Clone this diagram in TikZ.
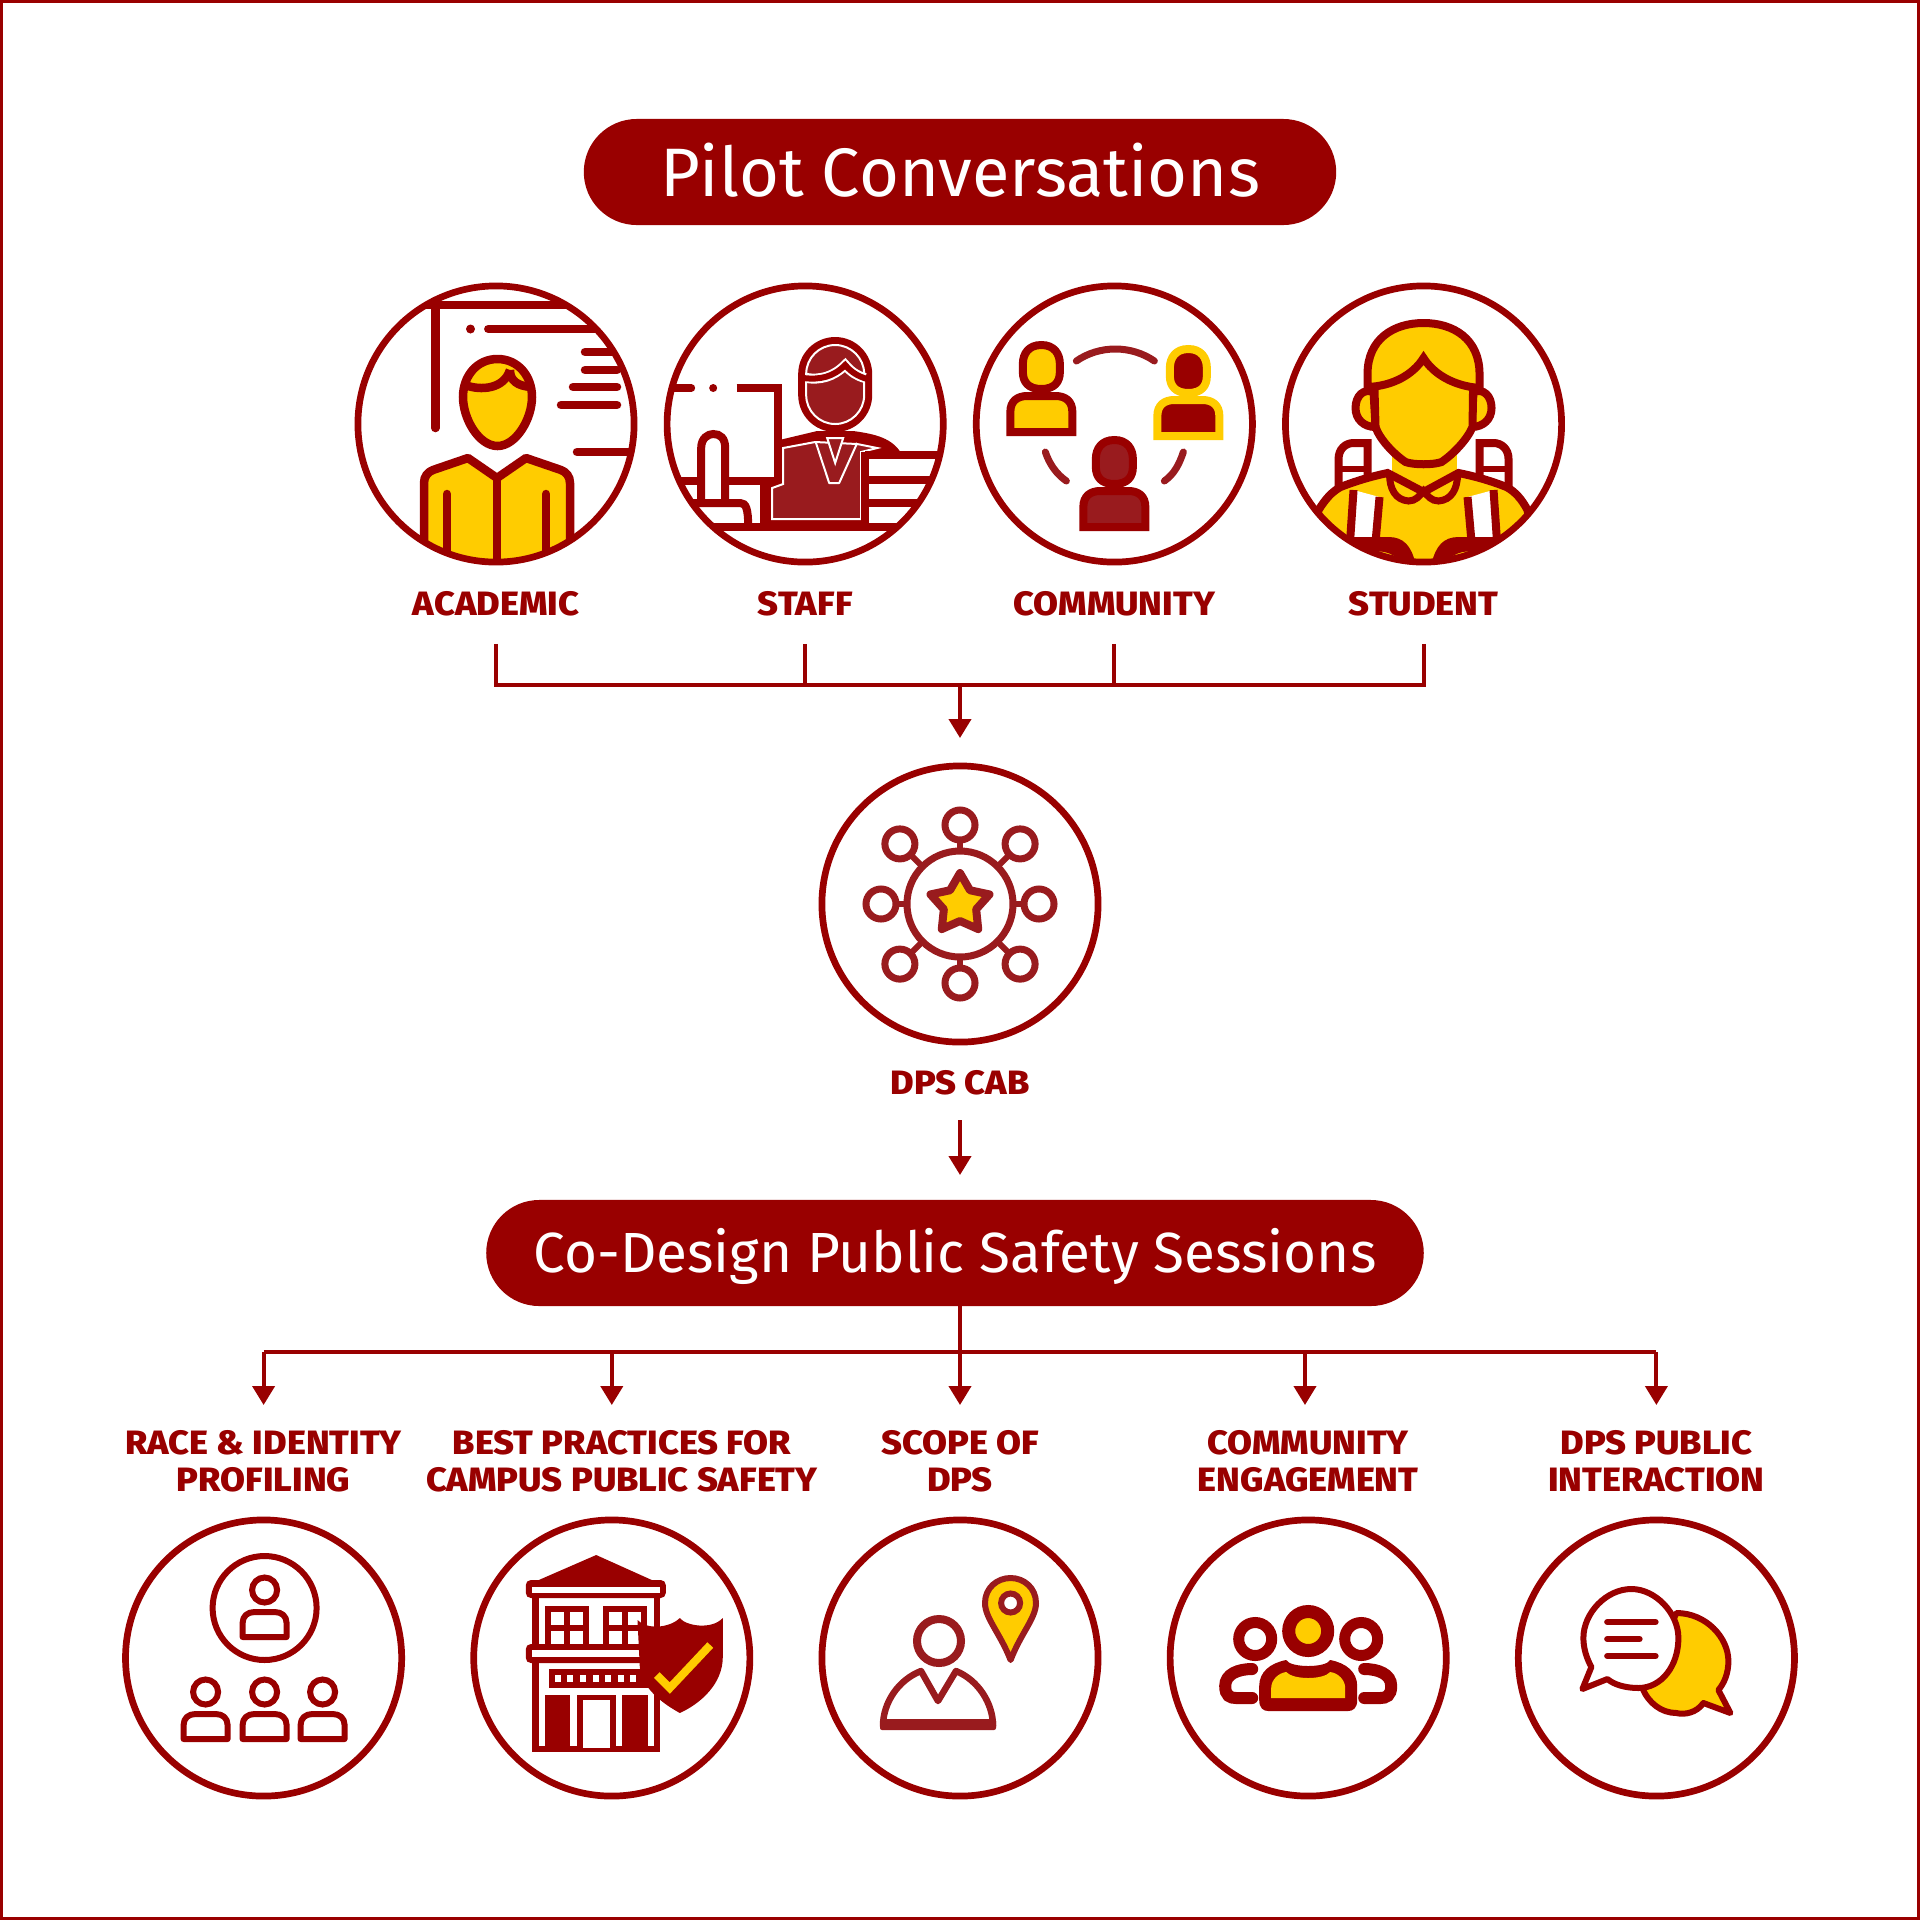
\documentclass[tikz,border=0pt]{standalone}
\usepackage{fontspec}
\setmainfont{Fira Sans}[BoldFont=* ExtraBold,BoldFeatures={FakeStretch=1.07}]
\usetikzlibrary{positioning,arrows.meta}
\pgfdeclarelayer{bg}
\pgfsetlayers{bg,main}
\definecolor{dpsred}{HTML}{990000}
\definecolor{dpsgold}{HTML}{FFCC00}
\definecolor{dpsmaroon}{HTML}{991B1E}
\tikzset{
  ring/.style={circle,draw=dpsred,line width=.067cm,minimum size=2.76cm,inner sep=0pt,outer sep=0pt},
  pill/.style={fill=dpsred,text=white,rounded corners=.53cm,minimum height=1.06cm,text depth=.05cm,inner sep=0pt,outer sep=0pt},
  tag/.style={text=dpsred,font=\bfseries\fontsize{9.6}{10.5}\selectfont,align=center,inner sep=0pt,outer sep=0pt},
  flow/.style={draw=dpsred,line width=.04cm},
  tip/.style={-{Triangle[length=.19cm,width=.22cm]}},
  bust/.pic={
    \draw[pic actions] (0,-47) .. controls (13,-47) and (18.5,-38) .. (18.5,-28) -- (18.5,-20) .. controls (18.5,-10) and (13,-3) .. (0,-3) .. controls (-13,-3) and (-18.5,-10) .. (-18.5,-20) -- (-18.5,-28) .. controls (-18.5,-38) and (-13,-47) .. (0,-47) -- cycle;
    \draw[pic actions] (-31,40) -- (-31,20) .. controls (-31,9) and (-24,4) .. (-14,4) -- (14,4) .. controls (24,4) and (31,9) .. (31,20) -- (31,40) -- cycle;
  },
  bustline/.pic={
    \draw[pic actions] (0,-20) circle (12.5);
    \draw[pic actions,line join=round] (-22,27) -- (-22,13) .. controls (-22,6) and (-17,2) .. (-10,2) -- (10,2) .. controls (17,2) and (22,6) .. (22,13) -- (22,27) -- cycle;
  },
}
\begin{document}
\begin{tikzpicture}[x=.01cm,y=-.01cm]
  \useasboundingbox (0,0) rectangle (1920,1920);
  \draw [color = dpsred, line width=.03cm] (1.5,1.5) rectangle (1918.5,1918.5);

  \node[pill,minimum width=7.52cm] (pilot) at (960,172) {\fontsize{19.5}{24}\selectfont Pilot Conversations};
  \node[ring] (academic) at (496,424) {};
  \node[ring,right=.33cm of academic] (staff) {};
  \node[ring,right=.33cm of staff] (community) {};
  \node[ring,right=.33cm of community] (student) {};
  \node[tag,below=.29cm of academic] (academiclabel) {ACADEMIC};
  \node[tag,below=.29cm of staff] (stafflabel) {STAFF};
  \node[tag,below=.29cm of community] (communitylabel) {COMMUNITY};
  \node[tag,below=.29cm of student] (studentlabel) {STUDENT};

  \node[ring] (cab) at (960,904) {};
  \node[tag,below=.285cm of cab] (cablabel) {DPS CAB};
  \node[pill,minimum width=9.37cm] (codesign) at (955,1253) {\fontsize{16.1}{21}\selectfont Co-Design Public Safety Sessions};

  \node[ring] (scope) at (960,1658) {};
  \node[ring,left=.72cm of scope] (best) {};
  \node[ring,left=.72cm of best] (race) {};
  \node[ring,right=.72cm of scope] (engage) {};
  \node[ring,right=.72cm of engage] (interact) {};
  \node[tag,above=.28cm of race] (racelabel) {RACE \& IDENTITY\\PROFILING};
  \node[tag,above=.28cm of best,xshift=.1cm] (bestlabel) {BEST PRACTICES FOR\\CAMPUS PUBLIC SAFETY};
  \node[tag,above=.28cm of scope] (scopelabel) {SCOPE OF\\DPS};
  \node[tag,above=.28cm of engage] (engagelabel) {COMMUNITY\\ENGAGEMENT};
  \node[tag,above=.28cm of interact] (interactlabel) {DPS PUBLIC\\INTERACTION};

  % connectors
  \coordinate (joint) at (960,685);
  \coordinate (cabin) at (960,738);
  \draw[flow] ([yshift=-.28cm]academiclabel.south) |- (joint);
  \draw[flow] ([yshift=-.28cm]studentlabel.south) |- (joint);
  \draw[flow] ([yshift=-.28cm]stafflabel.south) -- (stafflabel |- joint);
  \draw[flow] ([yshift=-.28cm]communitylabel.south) -- (communitylabel |- joint);
  \draw[flow,tip] (joint) -- (cabin);
  \coordinate (codesignin) at (960,1175);
  \coordinate (codesignout) at (960,1306);
  \coordinate (bus) at (960,1352);
  \coordinate (tips) at (960,1405);
  \coordinate (engagein) at (1305,1405);
  \draw[flow,tip] ([yshift=-.25cm]cablabel.south) -- (codesignin);
  \draw[flow] (codesignout) -- (bus);
  \draw[flow] (bus -| race) -- (bus -| interact);
  \foreach \topic in {race,best,scope,engagein,interact}
    \draw[flow,tip] (bus -| \topic) -- (tips -| \topic);

  \begin{pgfonlayer}{bg}
    % academic
    \begin{scope}[shift={(academic)}]
      \clip (0,0) circle (137);
      \draw[dpsred,line width=.085cm] (-140,-119) -- (140,-119);
      \draw[dpsred,line width=.085cm,line cap=round] (-60.7,-119) -- (-60.7,4);
      \fill[dpsred] (-25.5,-95) circle (4.5);
      \draw[dpsred,line width=.085cm,line cap=round] (-7.7,-95) -- (140,-95);
      \draw[dpsred,line width=.085cm,line cap=round] (89,-72) -- (140,-72);
      \draw[dpsred,line width=.085cm,line cap=round] (89,-54) -- (121,-54);
      \draw[dpsred,line width=.085cm,line cap=round] (77,-37) -- (121,-37);
      \draw[dpsred,line width=.085cm,line cap=round] (65,-19) -- (121,-19);
      \draw[dpsred,line width=.085cm,line cap=round] (81,28) -- (140,28);
      \draw[dpsred,fill=dpsgold,line width=.085cm] (1.5,-65) .. controls (22,-65) and (36,-48) .. (36,-27) .. controls (36,-5) and (20,22) .. (1.5,22) .. controls (-17,22) and (-33,-5) .. (-33,-27) .. controls (-33,-48) and (-19,-65) .. (1.5,-65) -- cycle;
      \draw[dpsred,line width=.085cm] (-31,-39) .. controls (-15,-33) and (8,-35) .. (14,-54);
      \draw[dpsred,line width=.085cm] (14,-54) .. controls (14,-43) and (22,-38) .. (35,-37);
      \draw[dpsred,fill=dpsgold,line width=.085cm,line join=round] (-72,145) -- (-72,59) .. controls (-72,52) and (-68,48) .. (-63,46) -- (-28,34) -- (1,54) -- (30,34) -- (65,46) .. controls (70,48) and (74,52) .. (74,59) -- (74,145) -- cycle;
      \draw[dpsred,line width=.085cm] (1,54) -- (1,145);
      \draw[dpsred,line width=.085cm,line cap=round] (-49,70) -- (-49,145);
      \draw[dpsred,line width=.085cm,line cap=round] (50,70) -- (50,145);
    \end{scope}
    % staff
    \begin{scope}[shift={(staff)}]
      \clip (0,0) circle (137);
      \draw[dpsred,line width=.08cm,line cap=round] (-140,-36) -- (-114,-36);
      \fill[dpsred] (-92,-36) circle (4);
      \draw[dpsred,line width=.08cm] (-68.6,-36) -- (-27,-36) -- (-27,57) -- (-140,57);
      \fill[dpsred] (-30,17) -- (12,7) -- (48,7) .. controls (70,10) and (88,14) .. (97,31) -- (60,31) -- (60,100) -- (-43,100) -- (-43,60) -- (-27,60) -- cycle;
      \draw[white,fill=dpsmaroon,line width=.02cm] (-22,24) -- (10,18) -- (52,20) -- (72,24) -- (56,28) -- (56,95) -- (-33,95) -- (-33,64) -- (-22,60) -- cycle;
      \draw[white,line width=.02cm,line join=round] (10.5,18) -- (24,59) -- (34,59) -- (52,19);
      \draw[white,fill=dpsmaroon,line width=.02cm] (22,14) -- (38,14) -- (30,39) -- cycle;
      \fill[dpsred,rounded corners=.37cm] (-7,-87) rectangle (67,8);
      \draw[white,fill=dpsmaroon,line width=.02cm,rounded corners=.29cm] (1,-79) rectangle (59,0);
      \draw[white,line width=.1cm] (1,-46) .. controls (15,-44) and (28,-47) .. (40,-59) .. controls (46,-52) and (52,-48) .. (60,-46);
      \draw[dpsred,line width=.06cm] (-2,-46) .. controls (15,-44) and (28,-47) .. (40,-59) .. controls (46,-52) and (52,-48) .. (62,-45);
      \draw[dpsred,line width=.08cm] (60,31) -- (140,31);
      \draw[dpsred,line width=.08cm] (60,56) -- (140,56);
      \draw[dpsred,line width=.08cm] (60,79) -- (140,79);
      \draw[dpsred,line width=.08cm] (60,28) -- (60,103);
      \draw[dpsred,line width=.08cm] (-140,103) -- (140,103);
      \draw[dpsred,line width=.08cm] (-41,60) -- (-41,103);
      \draw[dpsred,fill=white,line width=.08cm] (-104,79) -- (-104,24) .. controls (-104,14) and (-97,10) .. (-92,10) .. controls (-85,10) and (-80,14) .. (-80,24) -- (-80,79);
      \draw[dpsred,line width=.08cm] (-140,79) -- (-65,79) .. controls (-59,79) and (-57,85) .. (-57,103);
    \end{scope}
    % community
    \begin{scope}[shift={(community)}]
      \pic[fill=dpsgold,draw=dpsred,line width=.08cm] at (-73,-32) {bust};
      \pic[fill=dpsred,draw=dpsgold,line width=.08cm] at (74,-28) {bust};
      \pic[fill=dpsmaroon,draw=dpsred,line width=.08cm] at (0,63) {bust};
      \draw[dpsmaroon,line width=.07cm,line cap=round] (-38,-63) .. controls (-15,-79) and (17,-79) .. (40,-63);
      \draw[dpsmaroon,line width=.07cm,line cap=round] (-69,28) .. controls (-65,40) and (-58,50) .. (-48,57);
      \draw[dpsmaroon,line width=.07cm,line cap=round] (69,28) .. controls (65,40) and (60,50) .. (50,57);
    \end{scope}
    % student
    \begin{scope}[shift={(student)}]
      \clip (0,0) circle (137);
      \draw[dpsred,fill=white,line width=.08cm] (-85,70) -- (-85,35) .. controls (-85,25) and (-78,19) .. (-70,19) -- (-56,19) -- (-56,70);
      \draw[dpsred,line width=.06cm] (-85,45) -- (-56,45);
      \draw[dpsred,fill=white,line width=.08cm] (85,70) -- (85,35) .. controls (85,25) and (78,19) .. (70,19) -- (56,19) -- (56,70);
      \draw[dpsred,line width=.06cm] (85,45) -- (56,45);
      \fill[dpsgold] (-32,30) rectangle (33,70);
      \draw[dpsred,fill=dpsgold,line width=.08cm] (-115,150) -- (-105,86) .. controls (-98,75) and (-92,68) .. (-83,63) .. controls (-65,56) and (-50,52) .. (-36,49) -- (0,68) -- (35,49) .. controls (50,52) and (65,56) .. (83,63) .. controls (92,68) and (98,75) .. (104,86) -- (115,150) -- cycle;
      \draw[dpsred,line width=.07cm] (-34,50) .. controls (-34,65) and (-28,76) .. (-15,77) .. controls (-8,77) and (-4,72) .. (0,67) .. controls (4,72) and (8,77) .. (15,77) .. controls (28,76) and (34,65) .. (34,50);
      \draw[dpsred,fill=white,line width=.08cm] (-70,66) -- (-73.5,118) -- (-48,118) -- (-44,73);
      \draw[dpsred,fill=white,line width=.08cm] (70,66) -- (73.5,118) -- (48,118) -- (44,73);
      \fill[dpsred] (-100,113) -- (-35,113) .. controls (-20,113) and (-12,122) .. (-8,140) -- (-22,140) .. controls (-28,128) and (-45,124) .. (-65,130) -- cycle;
      \fill[dpsred] (100,113) -- (35,113) .. controls (20,113) and (12,122) .. (8,140) -- (22,140) .. controls (28,128) and (45,124) .. (65,130) -- cycle;
      \draw[dpsred,fill=dpsgold,line width=.08cm] (-50,-32) .. controls (-60,-36) and (-68,-28) .. (-68,-16) .. controls (-68,-5) and (-60,3) .. (-48,3) -- cycle;
      \draw[dpsred,fill=dpsgold,line width=.08cm] (50,-32) .. controls (60,-36) and (68,-28) .. (68,-16) .. controls (68,-5) and (60,3) .. (48,3) -- cycle;
      \draw[dpsred,fill=dpsgold,line width=.08cm] (-50,-70) -- (-48,3) .. controls (-44,15) and (-30,30) .. (-18,38) .. controls (-10,41) and (10,41) .. (18,38) .. controls (30,30) and (44,15) .. (49,3) -- (50,-70) -- cycle;
      \draw[dpsred,fill=dpsgold,line width=.08cm] (-56,-37) -- (-56,-50) .. controls (-56,-85) and (-30,-101) .. (0,-101) .. controls (30,-101) and (56,-85) .. (56,-50) -- (56,-36) .. controls (30,-38) and (10,-50) .. (0,-66) .. controls (-10,-50) and (-30,-38) .. (-56,-37) -- cycle;
    \end{scope}
    % cab
    \begin{scope}[shift={(cab)}]
      \foreach \ang/\rad in {0/79,45/85,90/79,135/85,180/79,225/85,270/79,315/85}{
        \draw[dpsmaroon,line width=.06cm] (\ang:53) -- (\ang:\rad-15);
        \draw[dpsmaroon,line width=.07cm] (\ang:\rad) circle (15);
      }
      \draw[dpsmaroon,line width=.07cm] (0,0) circle (53);
      \draw[dpsmaroon,fill=dpsgold,line width=.08cm,line join=round] (-90:31) -- (-54:17) -- (-18:31) -- (18:17) -- (54:31) -- (90:17) -- (126:31) -- (162:17) -- (198:31) -- (234:17) -- cycle;
    \end{scope}
    % race
    \begin{scope}[shift={(race)}]
      \draw[dpsred,line width=.06cm] (1,-50) circle (52);
      \foreach \px/\py in {1/-48,-58/54,1/54,59/54}
        \pic[draw=dpsred,line width=.06cm] at (\px,\py) {bustline};
    \end{scope}
    % best
    \begin{scope}[shift={(best)}]
      \fill[dpsred] (-15.6,-103) -- (40,-78) -- (-73,-78) -- cycle;
      \fill[dpsred] (-80,-60) rectangle (48,94);
      \fill[white] (-73,-60) rectangle (42.5,88);
      \fill[dpsred,rounded corners=.05cm] (-86,-78) rectangle (54,-60);
      \fill[white] (-79.5,-71) rectangle (48,-65);
      \fill[dpsred] (-67,-52) rectangle (-23,-14);
      \fill[dpsred] (-9,-52) rectangle (35,-14);
      \foreach \px in {-61,-42,-3,16}{
        \fill[white] (\px,-46) rectangle +(13,13);
        \fill[white] (\px,-27) rectangle +(13,13);
      }
      \fill[dpsred,rounded corners=.05cm] (-86,-14) rectangle (54,5);
      \fill[white] (-79.5,-8) rectangle (48,-1);
      \fill[dpsred] (-63,11) rectangle (40,30);
      \foreach \px in {-57,-44.4,-31.8,-19.2,-6.6,6,18.6}
        \fill[white] (\px,17) rectangle +(6,7);
      \fill[dpsred] (-67,37) rectangle (-42,90);
      \fill[dpsred] (-35,37) rectangle (4.6,90);
      \fill[dpsred] (10,37) rectangle (36,90);
      \fill[white] (-29,42) rectangle (-1.7,90);
      \fill[dpsred] (25.7,-38) .. controls (35,-28) and (58,-30) .. (68,-40) .. controls (74,-32) and (100,-28) .. (111,-40) -- (111,-1) .. controls (111,25) and (90,45) .. (68,55) .. controls (50,45) and (30,30) .. (28,9) -- cycle;
      \draw[dpsgold,line width=.08cm] (45,17) -- (58,30) -- (98.5,-13);
    \end{scope}
    % scope
    \begin{scope}[shift={(scope)}]
      \draw[dpsmaroon,line width=.08cm] (-21,-17) circle (22);
      \draw[dpsmaroon,line width=.065cm,line join=round] (-77,68) .. controls (-77,45) and (-62,22) .. (-39,13) -- (-22,43) -- (-4,13) .. controls (18,22) and (33,45) .. (33,68) -- cycle;
      \fill[dpsmaroon,rounded corners=.02cm] (-80,61) rectangle (36,72);
      \draw[dpsmaroon,fill=dpsgold,line width=.06cm,line join=round] (50.6,2) .. controls (40,-25) and (25,-40) .. (25,-55) .. controls (25,-70) and (37,-80) .. (50.6,-80) .. controls (64,-80) and (76,-70) .. (76,-55) .. controls (76,-40) and (61,-25) .. (50.6,2) -- cycle;
      \draw[dpsmaroon,fill=white,line width=.06cm] (50.6,-55) circle (9.5);
    \end{scope}
    % engage
    \begin{scope}[shift={(engage)}]
      \draw[dpsred,fill=dpsgold,line width=.13cm] (0,-27) circle (19.5);
      \draw[dpsred,line width=.11cm] (-53,-19) circle (16.5);
      \draw[dpsred,line width=.11cm] (53,-19) circle (16.5);
      \fill[dpsred] (-49,42) .. controls (-49,50) and (-45,53) .. (-40,53) -- (40,53) .. controls (45,53) and (49,50) .. (49,42) -- (49,28) .. controls (49,14) and (38,5) .. (22,2) .. controls (18,10) and (-18,10) .. (-22,2) .. controls (-38,5) and (-49,14) .. (-49,28) -- cycle;
      \fill[dpsgold] (-37,40) -- (37,40) -- (37,30) .. controls (37,22) and (30,15) .. (22,14) .. controls (15,22) and (-15,22) .. (-22,14) .. controls (-30,15) and (-37,22) .. (-37,30) -- cycle;
      \draw[dpsred,line width=.12cm,line cap=round] (-56,11) .. controls (-70,11) and (-83,16) .. (-83,28) .. controls (-83,38) and (-78,40) .. (-72,40) -- (-56,40);
      \draw[dpsred,line width=.12cm,line cap=round] (56,11) .. controls (70,11) and (83,16) .. (83,28) .. controls (83,38) and (78,40) .. (72,40) -- (56,40);
    \end{scope}
    % interact
    \begin{scope}[shift={(interact)}]
      \draw[dpsred,fill=dpsgold,line width=.06cm,line join=round] (20,-45) .. controls (50,-45) and (72,-20) .. (72,3) .. controls (72,15) and (68,25) .. (62,32) -- (74,55) -- (47,45) .. controls (40,55) and (28,57) .. (20,55) .. controls (5,55) and (-8,45) .. (-14,30) -- cycle;
      \draw[dpsred,fill=white,line width=.06cm,line join=round] (-25,-69) .. controls (-1,-69) and (22,-45) .. (22,-20) .. controls (22,8) and (5,30) .. (-18,30) .. controls (-30,30) and (-42,27) .. (-49,21) -- (-74,31) -- (-65,9) .. controls (-70,0) and (-73,-10) .. (-73,-20) .. controls (-73,-45) and (-50,-69) .. (-25,-69) -- cycle;
      \draw[dpsred,line width=.065cm,line cap=round] (-49,-36) -- (-1,-36);
      \draw[dpsred,line width=.065cm,line cap=round] (-49,-19) -- (-17,-19);
      \draw[dpsred,line width=.065cm,line cap=round] (-49,-2) -- (-1,-2);
    \end{scope}
  \end{pgfonlayer}
\end{tikzpicture}
\end{document}
